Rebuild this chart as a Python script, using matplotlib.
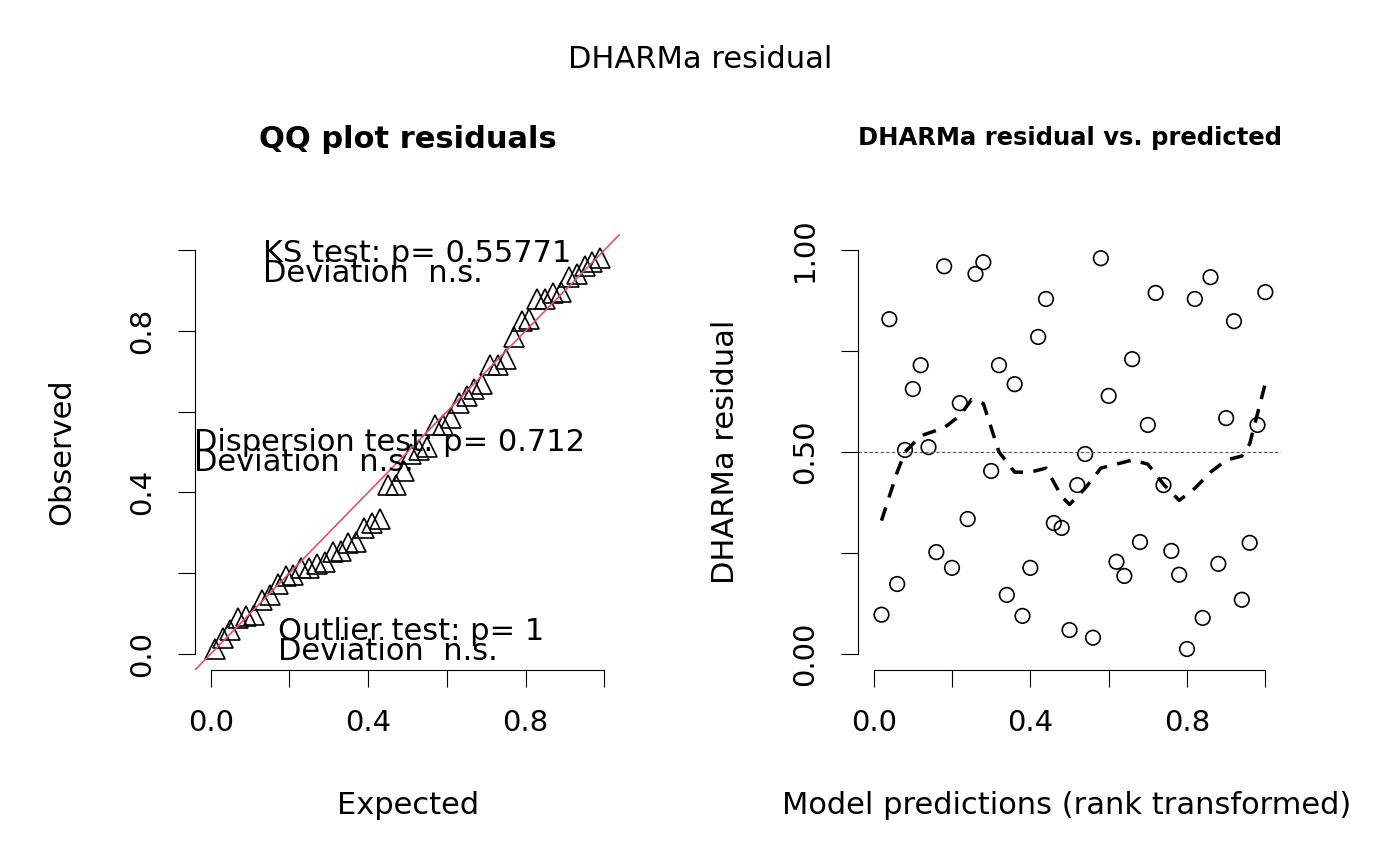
import matplotlib.pyplot as plt
import numpy as np

W, H = 1400, 866
predicted = np.arange(1, 51) * 0.02
residuals = [0.097, 0.829, 0.173, 0.505, 0.656, 0.715, 0.512, 0.252, 0.960, 0.213,
             0.621, 0.334, 0.941, 0.970, 0.453, 0.715, 0.146, 0.668, 0.094, 0.213,
             0.785, 0.879, 0.324, 0.312, 0.059, 0.418, 0.495, 0.040, 0.980, 0.639,
             0.228, 0.193, 0.730, 0.277, 0.567, 0.894, 0.418, 0.255, 0.196, 0.012,
             0.879, 0.089, 0.933, 0.223, 0.584, 0.824, 0.134, 0.275, 0.567, 0.896]
smooth_x = [0.02, 0.06, 0.08, 0.12, 0.18, 0.22, 0.25, 0.28, 0.32, 0.36, 0.40, 0.44,
            0.48, 0.50, 0.54, 0.58, 0.62, 0.66, 0.70, 0.74, 0.78, 0.82, 0.86, 0.90,
            0.94, 0.96, 1.00]
smooth_y = [0.33, 0.45, 0.50, 0.54, 0.56, 0.59, 0.63, 0.62, 0.50, 0.45, 0.45, 0.46,
            0.39, 0.37, 0.41, 0.46, 0.47, 0.48, 0.47, 0.42, 0.38, 0.41, 0.45, 0.48,
            0.49, 0.52, 0.67]

observed = np.sort(residuals)
expected = (np.arange(1, 51) - 0.5) / 50

plt.rcParams['font.family'] = 'DejaVu Sans'
fig = plt.figure(figsize=(14, 8.66), dpi=100)


def px(x, y):
    return x / W, 1 - y / H


def style(ax, yticks, ylabels):
    for s in ['top', 'right']:
        ax.spines[s].set_visible(False)
    ax.spines['left'].set_bounds(0, 1)
    ax.spines['bottom'].set_bounds(0, 1)
    ax.set_xlim(-0.04, 1.04)
    ax.set_ylim(-0.04, 1.04)
    ax.set_xticks(np.arange(0, 1.01, 0.2))
    ax.set_xticklabels(['0.0', '', '0.4', '', '0.8', ''])
    ax.set_yticks(yticks)
    ax.set_yticklabels(ylabels, rotation=90, va='center')
    ax.tick_params(length=12, labelsize=21, pad=16)
    ax.patch.set_visible(False)


ax1 = fig.add_axes([195 / W, 1 - 670 / H, 425 / W, 436 / H])
style(ax1, np.arange(0, 1.01, 0.2), ['0.0', '', '0.4', '', '0.8', ''])
ax1.plot(expected, observed, linestyle='none', marker='^', markersize=14,
         markerfacecolor='none', markeredgecolor='black', markeredgewidth=1.2)
ax1.axline((0, 0), slope=1, color='#DF536B', lw=1.2)
ax1.set_title('QQ plot residuals', fontsize=22, fontweight='bold', pad=62)

ax2 = fig.add_axes([858 / W, 1 - 670 / H, 423 / W, 436 / H])
style(ax2, [0, 0.25, 0.5, 0.75, 1.0], ['0.00', '', '0.50', '', '1.00'])
ax2.scatter(predicted, residuals, s=110, facecolors='none', edgecolors='black', linewidths=1.2)
ax2.axhline(0.5, color='#555555', lw=0.8, ls=(0, (3, 2)))
ax2.plot(smooth_x, smooth_y, color='black', lw=2.5, ls=(0, (4, 3)))
ax2.set_title('DHARMa residual vs. predicted', fontsize=17.5, fontweight='bold', pad=64)

fig.text(*px(700, 60), 'DHARMa residual', ha='center', va='center', fontsize=22)
for x, y, s in [(263, 253, 'KS test: p= 0.55771'), (263, 273, 'Deviation  n.s.'),
                (194, 443, 'Dispersion test: p= 0.712'), (194, 463, 'Deviation  n.s.'),
                (278, 631, 'Outlier test: p= 1'), (278, 651, 'Deviation  n.s.')]:
    fig.text(*px(x, y), s, ha='left', va='center', fontsize=22)
fig.text(*px(408, 805), 'Expected', ha='center', va='center', fontsize=22)
fig.text(*px(62, 452), 'Observed', ha='center', va='center', rotation=90, fontsize=22)
fig.text(*px(1067, 805), 'Model predictions (rank transformed)', ha='center', va='center', fontsize=22)
fig.text(*px(725, 452), 'DHARMa residual', ha='center', va='center', rotation=90, fontsize=22)

fig.savefig('out.png', dpi=100)
